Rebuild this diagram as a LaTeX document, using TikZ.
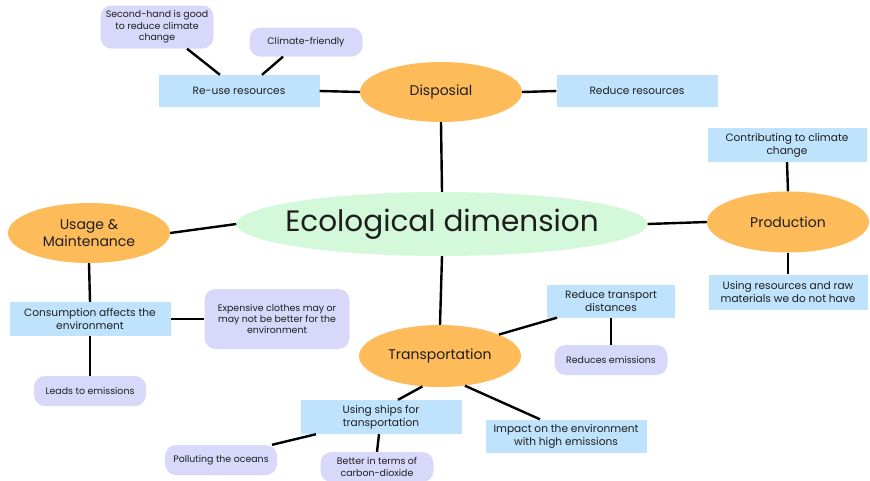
\documentclass[tikz,border=0pt]{standalone}
\usepackage{fontspec}
\setmainfont{Poppins}
\usepackage{xcolor}
\definecolor{topicfill}{HTML}{FDBB5A}
\definecolor{corefill}{HTML}{D4F8DA}
\definecolor{notefill}{HTML}{BFE3FC}
\definecolor{ideafill}{HTML}{D8D8FB}
\definecolor{ink}{HTML}{1E1E1E}
\usetikzlibrary{shapes.geometric,calc}

\begin{document}
\begin{tikzpicture}[
  x=1pt, y=-1pt,
  font=\fontsize{10.6}{13}\selectfont, text=ink,
  core/.style={ellipse, fill=corefill, inner sep=-16pt, minimum width=411pt,
    minimum height=64pt, font=\fontsize{29.5}{32}\selectfont},
  topic/.style={ellipse, fill=topicfill, inner sep=0pt, minimum width=162pt,
    minimum height=60pt, align=center, font=\fontsize{14}{17}\selectfont},
  note/.style={rectangle, fill=notefill, inner sep=0pt, minimum width=161pt,
    minimum height=32pt, align=center},
  idea/.style={rectangle, rounded corners=11pt, fill=ideafill, inner sep=0pt,
    minimum width=113pt, minimum height=30pt, align=center,
    font=\fontsize{9.4}{11.4}\selectfont},
  link/.style={line width=2.4pt, black}
]
\useasboundingbox (0,0) rectangle (870,480);

% centre and main topics
\node[core] (eco) at (442,224) {Ecological dimension};
\node[topic] (disp) at (441,92) {Disposial};
\node[topic, minimum height=61pt] (prod) at (788,222) {Production};
\node[topic] (usage) at (89,233) {Usage \&\\Maintenance};
\node[topic, minimum height=62pt] (trans) at (440,356) {Transportation};

% disposial
\node[note] (reuse) at (239,91) {Re-use resources};
\node[note] (reduce) at (637,91) {Reduce resources};
\node[idea, minimum height=43pt] (second) at (157,27) {Second-hand is good\\to reduce climate\\change};
\node[idea, minimum height=29pt] (friendly) at (306,42) {Climate-friendly};

% production
\node[note, minimum width=159pt, minimum height=34pt] (contrib) at (787,145) {Contributing to climate\\change};
\node[note, minimum width=159pt, minimum height=35pt] (rawmat) at (788,292) {Using resources and raw\\materials we do not have};

% usage and maintenance
\node[note, minimum height=34pt] (consum) at (90,319) {Consumption affects the\\environment};
\node[idea, minimum width=145pt, minimum height=60pt] (expens) at (277,319) {Expensive clothes may or\\may not be better for the\\environment};
\node[idea, minimum width=112pt] (leads) at (90,391) {Leads to emissions};

% transportation
\node[note, minimum width=128pt, minimum height=33pt] (dist) at (611,301) {Reduce transport\\distances};
\node[idea] (redem) at (611,360) {Reduces emissions};
\node[note, minimum height=33pt] (impact) at (566,436) {Impact on the environment\\with high emissions};
\node[note, minimum height=34pt] (ships) at (381,417) {Using ships for\\transportation};
\node[idea, minimum width=112pt] (ocean) at (221,460) {Polluting the oceans};
\node[idea] (better) at (377,467) {Better in terms of\\carbon-dioxide};

\draw[link] (eco.north) -- (disp.south);
\draw[link] (eco.east) -- (prod.west);
\draw[link] (eco.west) -- (usage.east);
\draw[link] (eco.south) -- (trans.north);

\draw[link] (reuse.east) -- (disp.west);
\draw[link] (disp.east) -- (reduce.west);
\draw[link] ([xshift=30pt]second.south) -- ([xshift=-19pt]reuse.north);
\draw[link] ([xshift=-23pt]friendly.south) -- ([xshift=23pt]reuse.north);

\draw[link] (contrib.south) -- (prod.north);
\draw[link] (prod.south) -- (rawmat.north);

\draw[link] (usage.south) -- (consum.north);
\draw[link] (consum.east) -- (expens.west);
\draw[link] (consum.south) -- (leads.north);

\draw[link] (trans.20) -- ([xshift=-54pt]dist.south);
\draw[link] (dist.south) -- (redem.north);
\draw[link] (trans.-50) -- ([xshift=-26pt]impact.north);
\draw[link] (trans.-120) -- ([xshift=17pt]ships.north);
\draw[link] ([xshift=-65pt]ships.south) -- ([xshift=51pt]ocean.north);
\draw[link] ([xshift=-2pt]ships.south) -- (better.north);
\end{tikzpicture}
\end{document}
